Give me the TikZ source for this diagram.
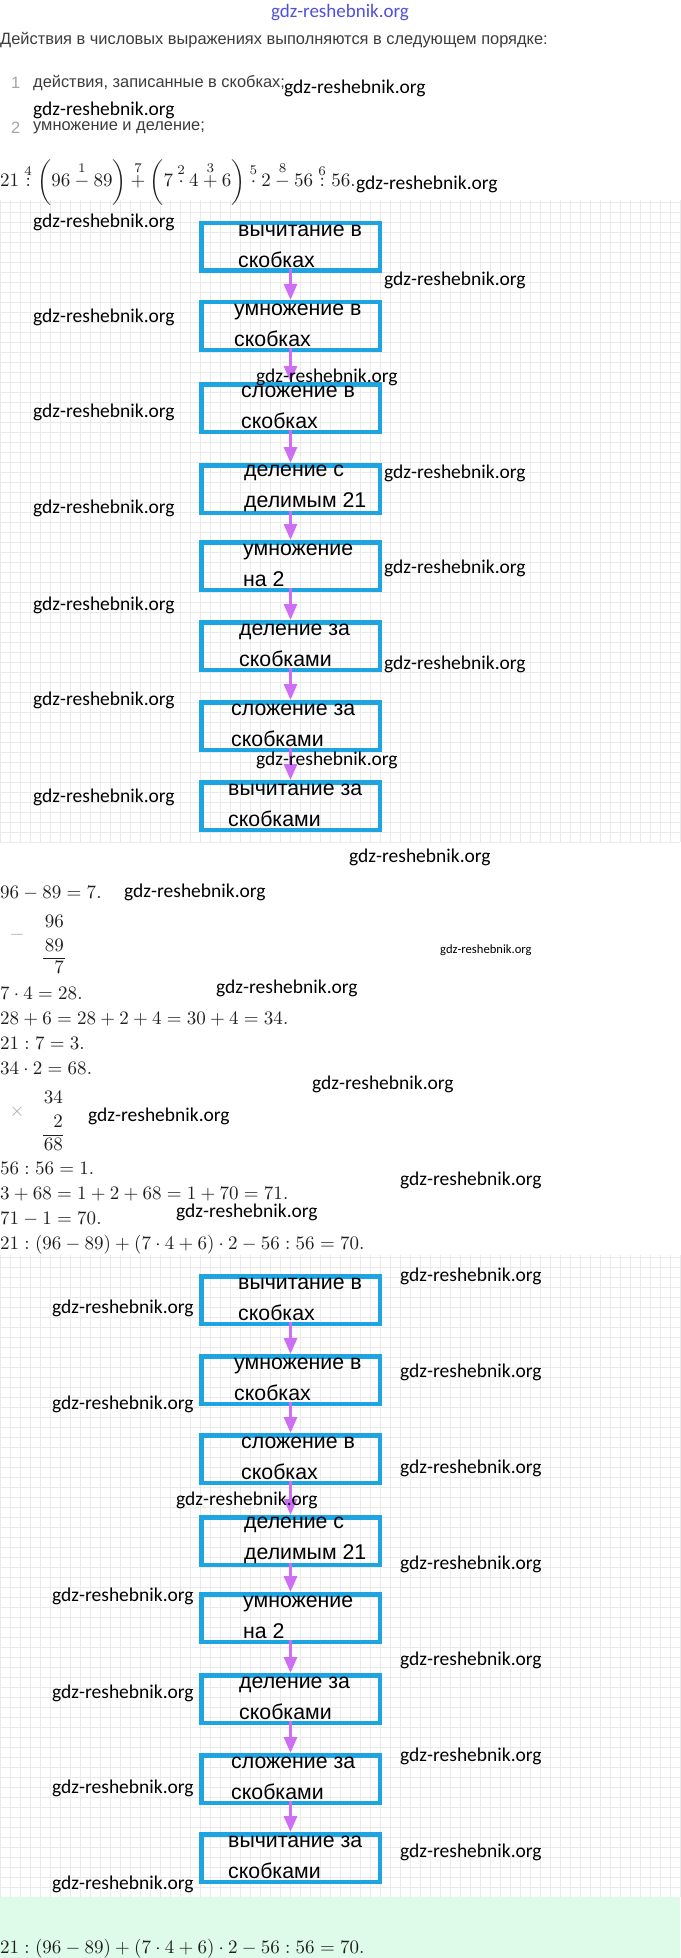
\documentclass[tikz,border=0pt]{standalone}
\usepackage{amsmath}
\usepackage{fontspec}
\newfontfamily\arialf{Liberation Sans}
\newfontfamily\wmfont{Carlito}
\usetikzlibrary{arrows.meta}
\definecolor{boxblue}{RGB}{30,165,225}
\definecolor{arrviolet}{RGB}{206,110,245}
\definecolor{gridgray}{RGB}{234,234,234}
\definecolor{mint}{RGB}{221,251,232}
\definecolor{hdrblue}{RGB}{80,80,220}
\definecolor{txtgray}{RGB}{60,60,60}
\definecolor{numgray}{RGB}{165,165,165}
\definecolor{mathblack}{RGB}{30,30,30}
\newcommand\mscale[1]{\scalebox{1.9}{$#1$}}
\newcommand\flowstep[5]{%
  \node[bluebox] (#1) at (290.5,#2+26) {};
  \node[boxtext] (#1t) at (#3,#2+25) {#4\\#5};
}
\begin{document}
\begin{tikzpicture}[x=1pt,y=-1pt,
 bluebox/.style={draw=boxblue,line width=4.5pt,minimum width=178.5pt,minimum height=47.5pt,inner sep=0pt},
 boxtext/.style={font=\arialf\fontsize{21.3}{31}\selectfont,align=left,inner sep=0pt,anchor=west,text=black},
 arr/.style={draw=arrviolet,line width=3pt,-{Triangle[length=16pt,width=13pt]},shorten <=-4pt},
 wmark/.style={font=\wmfont\fontsize{19.5}{20}\selectfont,inner sep=0pt,anchor=west,text=black},
 mathtxt/.style={inner sep=0pt,anchor=base west,text=mathblack},
 colnum/.style={inner sep=0pt,anchor=base east,text=mathblack},
 opgray/.style={inner sep=0pt,text=numgray},
 headtxt/.style={font=\arialf\fontsize{16.4}{20}\selectfont,inner sep=0pt,anchor=west,text=txtgray},
 gridl/.style={draw=gridgray,line width=0.7pt}]
\useasboundingbox (0,0) rectangle (680,1958);
\fill[white] (0,0) rectangle (680,1958);
% grids
\foreach \gx in {0,10,...,680} \draw[gridl] (\gx,200) -- (\gx,842);
\foreach \gy in {202,212,...,842} \draw[gridl] (0,\gy) -- (680,\gy);
\foreach \gx in {0,10,...,680} \draw[gridl] (\gx,1255) -- (\gx,1897);
\foreach \gy in {1257,1267,...,1897} \draw[gridl] (0,\gy) -- (680,\gy);
\fill[mint] (0,1897) rectangle (680,1958);
% header
\node[font=\wmfont\fontsize{19}{20}\selectfont,text=hdrblue,inner sep=0pt] (hdr) at (340,13) {gdz-reshebnik.org};
\node[headtxt] (h1) at (0,40) {Действия в числовых выражениях выполняются в следующем порядке:};
\node[headtxt,text=numgray] (n1) at (11,83) {1};
\node[headtxt] (l1) at (33,83) {действия, записанные в скобках;};
\node[headtxt,text=numgray] (n2) at (11,128) {2};
\node[headtxt] (l2) at (33,128) {умножение и деление;};
\node[mathtxt] (e0) at (0,187) {\mscale{21 \overset{4}{:} \biggl(96 \overset{1}{-} 89\biggr) \overset{7}{+} \biggl(7 \overset{2}{\cdot} 4 \overset{3}{+} 6\biggr) \overset{5}{\cdot} 2 \overset{8}{-} 56 \overset{6}{:} 56.}};
% chart 1
\flowstep{a1}{221}{238}{вычитание в}{скобках}
\flowstep{a2}{300}{234}{умножение в}{скобках}
\flowstep{a3}{382}{241}{сложение в}{скобках}
\flowstep{a4}{463}{244}{деление с}{делимым 21}
\flowstep{a5}{540}{243}{умножение}{на 2}
\flowstep{a6}{620}{239}{деление за}{скобками}
\flowstep{a7}{700}{231}{сложение за}{скобками}
\flowstep{a8}{780}{228}{вычитание за}{скобками}
\foreach \p/\q in {a1/a2,a2/a3,a3/a4,a4/a5,a5/a6,a6/a7,a7/a8} \draw[arr] (\p.south) -- (\q.north);
% calculations
\node[mathtxt] (m1) at (0,898) {\mscale{96 - 89 = 7.}};
\node[opgray] (s1) at (17,935) {\mscale{-}};
\node[colnum] (s2) at (64,927) {\mscale{96}};
\node[colnum] (s3) at (64,951) {\mscale{89}};
\draw[mathblack,line width=0.8pt] (43,958) -- (65,958);
\node[colnum] (s4) at (64,973) {\mscale{7}};
\node[mathtxt] (m2) at (0,999) {\mscale{7 \cdot 4 = 28.}};
\node[mathtxt] (m3) at (0,1024) {\mscale{28 + 6 = 28 + 2 + 4 = 30 + 4 = 34.}};
\node[mathtxt] (m4) at (0,1049) {\mscale{21 : 7 = 3.}};
\node[mathtxt] (m5) at (0,1074) {\mscale{34 \cdot 2 = 68.}};
\node[colnum] (p1) at (63,1103) {\mscale{34}};
\node[opgray] (p2) at (17,1112) {\mscale{\times}};
\node[colnum] (p3) at (63,1127) {\mscale{2}};
\draw[mathblack,line width=0.8pt] (43,1135) -- (63,1135);
\node[colnum] (p4) at (63,1150) {\mscale{68}};
\node[mathtxt] (m6) at (0,1174) {\mscale{56 : 56 = 1.}};
\node[mathtxt] (m7) at (0,1199) {\mscale{3 + 68 = 1 + 2 + 68 = 1 + 70 = 71.}};
\node[mathtxt] (m8) at (0,1224) {\mscale{71 - 1 = 70.}};
\node[mathtxt] (m9) at (0,1249) {\mscale{21 : (96 - 89) + (7 \cdot 4 + 6) \cdot 2 - 56 : 56 = 70.}};
% chart 2
\flowstep{b1}{1274}{238}{вычитание в}{скобках}
\flowstep{b2}{1354}{234}{умножение в}{скобках}
\flowstep{b3}{1433}{241}{сложение в}{скобках}
\flowstep{b4}{1515}{244}{деление с}{делимым 21}
\flowstep{b5}{1592}{243}{умножение}{на 2}
\flowstep{b6}{1673}{239}{деление за}{скобками}
\flowstep{b7}{1753}{231}{сложение за}{скобками}
\flowstep{b8}{1832}{228}{вычитание за}{скобками}
\foreach \p/\q in {b1/b2,b2/b3,b3/b4,b4/b5,b5/b6,b6/b7,b7/b8} \draw[arr] (\p.south) -- (\q.north);
\node[mathtxt] (fin) at (0,1953) {\mscale{21 : (96 - 89) + (7 \cdot 4 + 6) \cdot 2 - 56 : 56 = 70.}};
% watermarks
\foreach \px/\py [count=\i] in {284/88,33/110,356/184,33/222,384/280,33/317,256/377,33/412,384/473,33/508,384/568,33/605,384/664,33/700,256/760,33/797,349/857,124/892,216/988,312/1084,88/1116,400/1180,176/1212,400/1276,52/1308,400/1372,52/1404,400/1468,176/1500,400/1564,52/1596,400/1660,52/1693,400/1756,52/1788,400/1852,52/1884}
  \node[wmark] (w\i) at (\px,\py) {gdz-reshebnik.org};
\node[wmark,font=\wmfont\fontsize{12.6}{14}\selectfont] (wsmall) at (440,950) {gdz-reshebnik.org};
\end{tikzpicture}
\end{document}
